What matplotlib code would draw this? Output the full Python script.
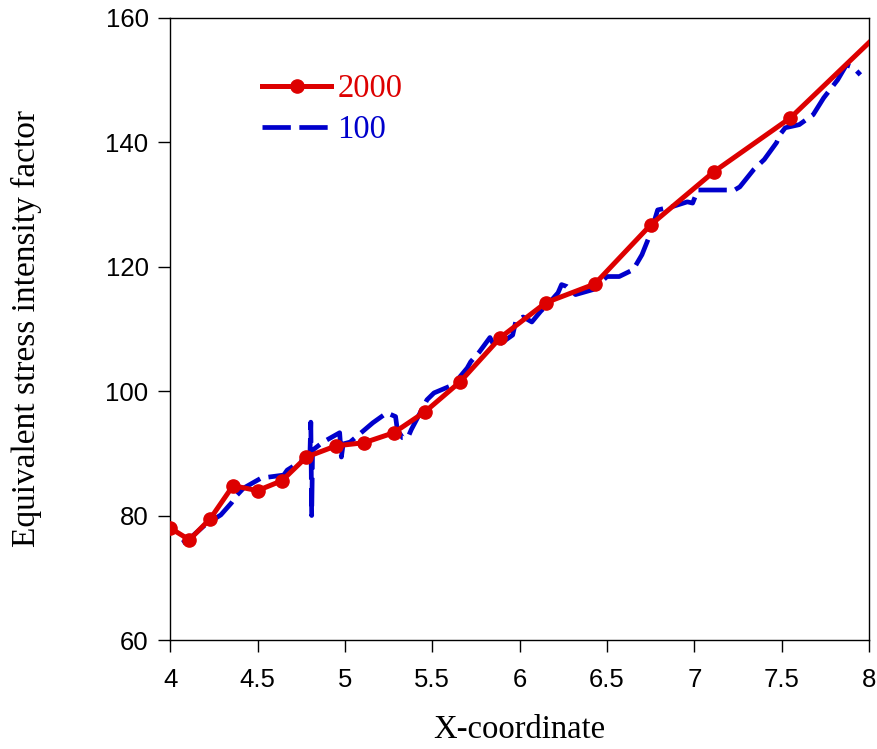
import matplotlib
matplotlib.use("Agg")
import matplotlib.pyplot as plt

# series "2000" (solid red with markers)
x_2000 = [4.0, 4.11, 4.23, 4.36, 4.50, 4.64, 4.78, 4.95, 5.11, 5.28, 5.46, 5.66,
          5.89, 6.15, 6.43, 6.75, 7.11, 7.55, 8.0]
y_2000 = [78.0, 76.1, 79.5, 84.8, 84.0, 85.6, 89.4, 91.2, 91.7, 93.3, 96.7, 101.5,
          108.6, 114.2, 117.2, 126.7, 135.2, 143.9, 156.0]

# series "100" (dashed blue)
x_100 = [4.07, 4.12, 4.20, 4.29, 4.35, 4.38, 4.42, 4.52, 4.57, 4.65, 4.67, 4.76,
         4.80, 4.805, 4.81, 4.815, 4.875, 4.97, 4.98, 4.99, 5.03, 5.16, 5.24, 5.29,
         5.30, 5.33, 5.36, 5.38, 5.47, 5.51, 5.62, 5.70, 5.72, 5.77, 5.83, 5.86,
         5.96, 5.98, 6.02, 6.07, 6.12, 6.17, 6.22, 6.24, 6.27, 6.32, 6.42, 6.50,
         6.57, 6.65, 6.70, 6.75, 6.79, 6.87, 6.96, 6.99, 7.02, 7.08, 7.16, 7.23,
         7.26, 7.34, 7.40, 7.47, 7.49, 7.52, 7.60, 7.68, 7.74, 7.82, 7.87, 7.91, 7.95]
y_100 = [75.6, 76.5, 78.5, 80.1, 82.0, 83.2, 84.4, 86.0, 86.2, 86.5, 87.3, 88.9,
         89.8, 95.0, 80.0, 90.5, 91.8, 93.3, 89.4, 91.5, 91.8, 94.9, 96.5, 95.9,
         93.8, 92.5, 92.5, 93.8, 98.6, 99.7, 101.0, 103.7, 104.7, 106.3, 108.6, 107.0,
         109.0, 111.4, 111.9, 111.1, 112.8, 114.2, 115.8, 117.1, 116.8, 115.5, 116.3, 118.4,
         118.4, 119.5, 121.9, 125.4, 129.1, 129.6, 130.4, 130.2, 132.3, 132.3, 132.3, 132.3,
         132.8, 135.6, 137.2, 139.9, 141.2, 142.3, 142.8, 144.4, 147.1, 150.0, 152.4, 152.0, 150.8]

xticks = [4, 4.5, 5, 5.5, 6, 6.5, 7, 7.5, 8]
xtick_labels = ["4", "4.5", "5", "5.5", "6", "6.5", "7", "7.5", "8"]
yticks = [60, 80, 100, 120, 140, 160]

red = "#dd0000"
blue = "#0000cc"

fig = plt.figure(figsize=(8.77, 7.49), dpi=100)
ax = fig.add_axes([0.194, 0.1455, 0.797, 0.831])

ax.plot(x_2000, y_2000, color=red, lw=3.6, marker="o", ms=9.5,
        markevery=list(range(len(x_2000) - 1)), label="2000", zorder=3)
ax.plot(x_100, y_100, color=blue, lw=3.4, dashes=(6, 1.8), label="100", zorder=2)

ax.set_xlim(4, 8)
ax.set_ylim(60, 160)
ax.set_xticks(xticks)
ax.set_xticklabels(xtick_labels)
ax.set_yticks(yticks)

tick_font = "Liberation Sans"
for lab in ax.get_xticklabels() + ax.get_yticklabels():
    lab.set_fontfamily(tick_font)
    lab.set_fontsize(18.5)
ax.tick_params(direction="out", length=8.5, width=1.0)
ax.tick_params(axis="x", pad=12)
ax.tick_params(axis="y", pad=7)
for s in ax.spines.values():
    s.set_linewidth(1.0)

ax.set_xlabel("X-coordinate", family="Liberation Serif", fontsize=23.5, labelpad=16)
ax.set_ylabel("Equivalent stress intensity factor", family="Liberation Serif",
              fontsize=24, labelpad=46)

leg = ax.legend(loc="upper left", bbox_to_anchor=(0.132, 0.910), frameon=False,
                borderpad=0, borderaxespad=0,
                handlelength=2.1, handletextpad=0.2, labelspacing=0.32,
                prop={"family": "Liberation Serif", "size": 23.5},
                labelcolor="linecolor")

fig.savefig("out.png", dpi=100)
